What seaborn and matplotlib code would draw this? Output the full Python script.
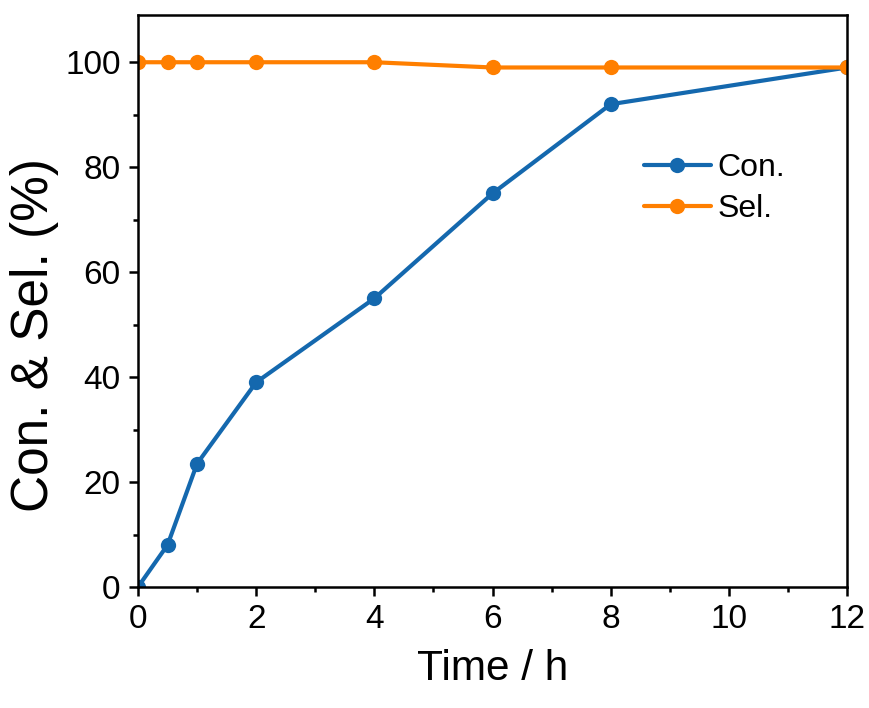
import matplotlib
matplotlib.use("Agg")
import matplotlib.pyplot as plt
import seaborn as sns
import pandas as pd
from matplotlib.ticker import MultipleLocator

time_h = [0, 0.5, 1, 2, 4, 6, 8, 12]
con = [0, 8, 23.5, 39, 55, 75, 92, 99]
sel = [100, 100, 100, 100, 100, 99, 99, 99]
series_names = ["Con.", "Sel."]
colors = ["#1468ae", "#ff7f00"]

df = pd.DataFrame({
    "Time": time_h * 2,
    "Value": con + sel,
    "Series": [series_names[0]] * len(time_h) + [series_names[1]] * len(time_h),
})

sns.set_style("white")
plt.rcParams["font.family"] = ["Liberation Sans", "DejaVu Sans"]
plt.rcParams["text.color"] = "black"
plt.rcParams["axes.labelcolor"] = "black"

fig = plt.figure(figsize=(8.7, 7.08), dpi=100)
ax = fig.add_axes([0.1586, 0.1709, 0.8150, 0.8079])

sns.lineplot(data=df, x="Time", y="Value", hue="Series", palette=colors,
             marker="o", markersize=11, linewidth=3.0, markeredgewidth=0,
             ax=ax, legend=True)

ax.set_xlim(0, 12)
ax.set_ylim(0, 109)
ax.xaxis.set_major_locator(MultipleLocator(2))
ax.xaxis.set_minor_locator(MultipleLocator(1))
ax.yaxis.set_major_locator(MultipleLocator(20))
ax.yaxis.set_minor_locator(MultipleLocator(10))
ax.tick_params(which="major", direction="out", length=6.5, width=1.8, pad=6,
               labelsize=24, bottom=True, left=True, top=False, right=False,
               colors="black")
ax.tick_params(which="minor", direction="out", length=3.5, width=1.8,
               bottom=True, left=True, top=False, right=False, colors="black")
for s in ax.spines.values():
    s.set_visible(True)
    s.set_color("black")
    s.set_linewidth(1.8)

ax.set_xlabel("Time / h", fontsize=30.5, labelpad=10)
ax.set_ylabel("Con. & Sel. (%)", fontsize=37)
ax.yaxis.set_label_coords(-0.112, 0.44)

leg = ax.legend(frameon=False, fontsize=23, loc="center left",
                bbox_to_anchor=(0.673, 0.697), handlelength=2.1,
                handletextpad=0.2, labelspacing=0.35)

fig.savefig("out.png", dpi=100)
